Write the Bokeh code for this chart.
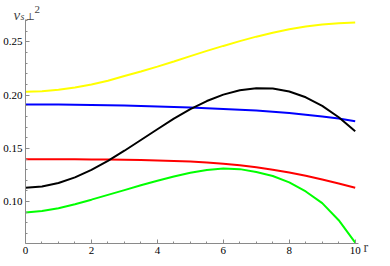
from bokeh.plotting import figure
from bokeh.models import Range1d, FixedTicker, PrintfTickFormatter, Label
from bokeh.embed import file_html
from bokeh.resources import INLINE

# ---- data ----
r = [0, 0.5, 1, 1.5, 2, 2.5, 3, 3.5, 4, 4.5, 5, 5.5, 6, 6.5, 7, 7.5, 8, 8.5, 9, 9.5, 10]

yellow = [0.2032, 0.2037, 0.2050, 0.2072, 0.2100, 0.2136, 0.2180, 0.2222, 0.2268, 0.2317,
          0.2367, 0.2416, 0.2463, 0.2508, 0.2550, 0.2587, 0.2619, 0.2645, 0.2664, 0.2677, 0.2684]
blue = [0.1913, 0.1913, 0.1912, 0.1910, 0.1908, 0.1905, 0.1902, 0.1898, 0.1894, 0.1889,
        0.1884, 0.1878, 0.1871, 0.1863, 0.1855, 0.1844, 0.1832, 0.1817, 0.1800, 0.1780, 0.1755]
red = [0.1397, 0.1397, 0.1397, 0.1397, 0.1396, 0.1395, 0.1393, 0.1391, 0.1387, 0.1382,
       0.1376, 0.1367, 0.1356, 0.1341, 0.1323, 0.1300, 0.1273, 0.1242, 0.1207, 0.1170, 0.1130]
black = [0.1130, 0.1141, 0.1174, 0.1227, 0.1298, 0.1383, 0.1478, 0.1579, 0.1680, 0.1779,
         0.1868, 0.1945, 0.2005, 0.2046, 0.2066, 0.2063, 0.2035, 0.1980, 0.1900, 0.1793, 0.1660]
green = [0.0898, 0.0912, 0.0938, 0.0975, 0.1018, 0.1063, 0.1108, 0.1153, 0.1196, 0.1236,
         0.1270, 0.1297, 0.1311, 0.1305, 0.1278, 0.1240, 0.1180, 0.1095, 0.0985, 0.0825, 0.0615]

x_ticks = [0, 2, 4, 6, 8, 10]
x_minor = [0.5, 1, 1.5, 2.5, 3, 3.5, 4.5, 5, 5.5, 6.5, 7, 7.5, 8.5, 9, 9.5]
y_ticks = [0.10, 0.15, 0.20, 0.25]
y_minor = [0.07, 0.08, 0.09, 0.11, 0.12, 0.13, 0.14, 0.16, 0.17, 0.18, 0.19,
           0.21, 0.22, 0.23, 0.24, 0.26, 0.27]

x_lo, x_hi = 0, 10.1
y_lo, y_axis_top = 0.0606, 0.2710
ppu = 1064.0                     # pixels per y unit in the reference
y_top = y_lo + 243 / ppu          # frame reaches the top of the canvas

p = figure(width=374, height=258, output_backend="svg", toolbar_location=None,
           x_range=Range1d(x_lo, x_hi), y_range=Range1d(y_lo, y_top),
           min_border_left=0, min_border_right=0, min_border_top=0, min_border_bottom=15)
p.outline_line_color = None
p.xgrid.visible = False
p.ygrid.visible = False
p.background_fill_color = "white"
p.border_fill_color = "white"

tick_font = "Liberation Serif"
axis_col = "#8a8a8a"
for ax in (p.xaxis[0], p.yaxis[0]):
    ax.axis_line_color = axis_col
    ax.axis_line_width = 1
    ax.major_tick_line_color = axis_col
    ax.minor_tick_line_color = axis_col
    ax.major_tick_in = 4
    ax.major_tick_out = 0
    ax.minor_tick_in = 2
    ax.minor_tick_out = 0
    ax.major_label_text_font = tick_font
    ax.major_label_text_font_size = "11px"
    ax.major_label_text_color = "#000000"

p.xaxis.ticker = FixedTicker(ticks=x_ticks, minor_ticks=x_minor)
p.xaxis.formatter = PrintfTickFormatter(format="%d")
p.xaxis.major_label_standoff = 3
p.xaxis.bounds = (x_lo, x_hi)
p.yaxis.ticker = FixedTicker(ticks=y_ticks, minor_ticks=y_minor)
p.yaxis.formatter = PrintfTickFormatter(format="%.2f")
p.yaxis.major_label_standoff = 3
p.yaxis.bounds = (y_lo, y_axis_top)

lw = 2
p.line(r, yellow, line_color="#ffff00", line_width=lw)
p.line(r, blue, line_color="#0000ff", line_width=lw)
p.line(r, red, line_color="#ff0000", line_width=lw)
p.line(r, green, line_color="#00ff00", line_width=lw)
p.line(r, black, line_color="#000000", line_width=lw)

# axis labels (Mathematica style)
font = "Liberation Serif"
dy = 5  # label shifted down a little to stay inside the canvas
# parts left of the y axis live in the right side panel (not clipped)
p.add_layout(Label(x=0, y=y_axis_top + (10 - dy) / ppu, x_offset=-12, text="v", text_font=font,
                   text_font_style="italic", text_font_size="15px", text_baseline="alphabetic"), "right")
p.add_layout(Label(x=0, y=y_axis_top + (8 - dy) / ppu, x_offset=-5, text="s", text_font=font,
                   text_font_style="italic", text_font_size="10px", text_baseline="alphabetic"), "right")
# parts right of the y axis are inside the frame
p.add_layout(Label(x=0, y=y_axis_top + (8 - dy) / ppu, x_offset=0, text="\u22a5", text_font="DejaVu Serif",
                   text_font_size="10px", text_baseline="alphabetic"))
p.add_layout(Label(x=0, y=y_axis_top + (15 - dy) / ppu, x_offset=9, text="2", text_font=font,
                   text_font_size="11px", text_baseline="alphabetic"))
p.add_layout(Label(x=x_hi, y=y_lo - 4 / ppu, x_offset=5, text="r", text_font=font,
                   text_font_size="14px", text_baseline="alphabetic"), "right")

open("out.html", "w").write(file_html(p, INLINE))
